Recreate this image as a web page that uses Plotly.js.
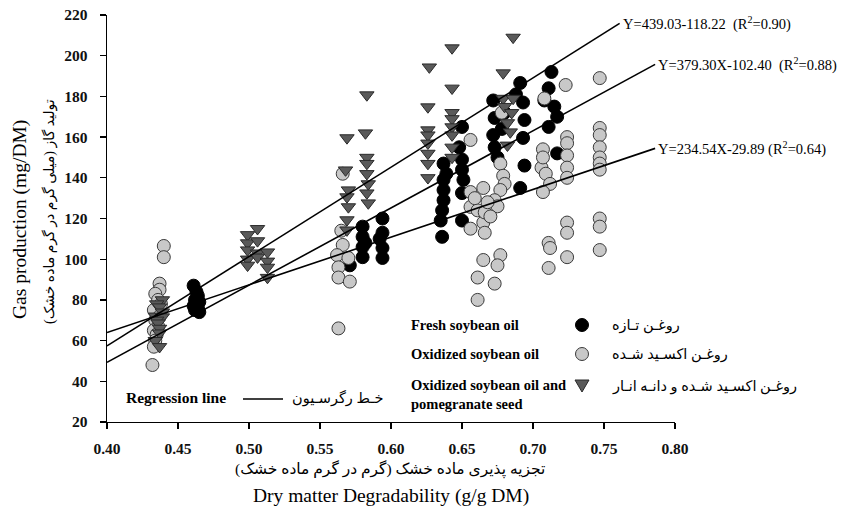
<!DOCTYPE html>
<html>
<head>
<meta charset="utf-8">
<script src="https://cdn.plot.ly/plotly-3.0.1.min.js"></script>
<style>html,body{margin:0;padding:0;background:#fff;}#chart{width:861px;height:515px;}</style>
</head>
<body>
<div id="chart"></div>
<script>
// ---------- DATA ----------
const freshX = [0.461,0.463,0.464,0.462,0.465,0.463,0.461,0.464,0.462,0.465,
  0.580,0.580,0.580,0.580,0.594,0.594,0.594,0.594,0.571,0.582,0.592,
  0.637,0.637,0.637,0.637,0.636,0.635,0.636,0.650,0.650,0.650,0.651,0.650,0.650,0.639,0.648,
  0.691,0.672,0.693,0.673,0.694,0.672,0.693,0.673,0.675,0.694,0.691,0.680,0.678,0.688,
  0.713,0.711,0.708,0.715,0.717,0.711,0.717];
const freshY = [87,84,82,80,79,78,77,76,75,74,
  116,111,106,101,120,113,105.5,100.6,97,108,110,
  147,139,134,129,124,119,111,165,149,144,139,132.5,119,142,155,
  186.6,178,177,169.4,168.4,161,159.6,155,150,146,135,172,164,181,
  192,184,178,175,170,165,152];

const oxidX = [0.440,0.440,0.437,0.437,0.434,0.436,0.438,0.433,0.437,0.434,0.436,0.433,0.435,0.434,0.433,0.432,
  0.566,0.565,0.566,0.562,0.570,0.563,0.563,0.571,0.563,
  0.656,0.656,0.665,0.656,0.661,0.665,0.656,0.666,0.665,0.677,0.675,0.661,0.673,0.661,
  0.677,0.679,0.680,0.677,0.673,0.675,0.666,0.659,0.668,0.670,0.678,
  0.723,0.708,0.707,0.706,0.707,0.709,0.712,0.707,0.711,0.712,0.711,
  0.724,0.724,0.724,0.724,0.724,0.724,0.724,0.724,
  0.747,0.747,0.747,0.747,0.747,0.747,0.747,0.747,0.747,0.747];
const oxidY = [106.5,101,88,85,83,80,78,75,72,70,67,65,63,60,57,48,
  142,114,107,102,100.6,96,91,89,66,
  158.6,133,135,125.7,124,118,115,113,99.6,102,97,91,88,80,
  147,141,137,134,129,126,123,130,128,121,172,
  185.6,179,154,145,150,142,137,133,108,105.5,95.7,
  160,157,151,145,140,118,113,101,
  189,164.5,161,155,150,147,144,120,116,104.5];

const pomX = [0.439,0.435,0.437,0.439,0.434,0.439,0.435,0.436,0.437,0.437,0.434,0.437,
  0.499,0.499,0.499,0.499,0.499,0.506,0.506,0.506,0.506,0.513,0.513,0.513,0.513,
  0.569,0.568,0.570,0.569,0.570,0.569,0.569,0.583,0.582,0.583,0.583,0.583,0.584,0.583,0.584,
  0.627,0.643,0.626,0.643,0.626,0.626,0.626,0.626,0.626,0.626,0.643,0.643,0.643,0.643,0.643,0.643,
  0.686,0.679,0.679,0.686,0.680,0.685,0.682,0.684,0.682];
const pomY = [80,78,76.5,74,72,71.6,70,68.6,66,63.7,60,57,
  112,108,104.5,100,97,115,109,103,101,103.5,99,96,91,
  159.6,143.8,134,130.6,125.7,119.3,114.3,180.7,162,150,147,142,137,132.5,127.6,
  194.4,203.8,174.8,184,163.5,161,157,152,147,140,172,169,165,161,155,150,
  209,191.5,179,179,175,172,167,162.5,156];

// regression lines: slope, intercept, x end, label
const regSlope = [439.03, 379.30, 234.54];
const regIntercept = [-118.22, -102.40, -29.89];
const regStart = [0.40, 0.40, 0.40];
const regEnd = [0.761, 0.786, 0.786];
const regLabels = ['Y=439.03-118.22  (R<sup>2</sup>=0.90)',
                   'Y=379.30X-102.40  (R<sup>2</sup>=0.88)',
                   'Y=234.54X-29.89 (R<sup>2</sup>=0.64)'];

const xTickVals = [0.40,0.45,0.50,0.55,0.60,0.65,0.70,0.75,0.80];
const xTickText = ['0.40','0.45','0.50','0.55','0.60','0.65','0.70','0.75','0.80'];
const yTickVals = [20,40,60,80,100,120,140,160,180,200,220];
const yTickText = ['20','40','60','80','100','120','140','160','180','200','220'];

// ---------- LAYOUT HELPERS ----------
const L = 107, R = 675, T = 15, B = 422;
const px = x => (x - L) / (R - L);
const py = y => (B - y) / (B - T);
const SERIF = 'Liberation Serif, Times New Roman, DejaVu Serif, serif';
const FA = 'Liberation Serif, DejaVu Sans, Noto Sans, serif';

const traces = [];
traces.push({x: freshX, y: freshY, type: 'scatter', mode: 'markers', cliponaxis: false,
  marker: {symbol: 'circle', size: 13, color: '#000000', line: {color: '#000000', width: 1}}});
traces.push({x: oxidX, y: oxidY, type: 'scatter', mode: 'markers', cliponaxis: false,
  marker: {symbol: 'circle', size: 13, color: '#c8c8c8', line: {color: '#3a3a3a', width: 1}}});
traces.push({x: pomX, y: pomY, type: 'scatter', mode: 'markers', cliponaxis: false,
  marker: {symbol: 'triangle-down', size: 12.5, color: '#5a5a5a', line: {color: '#2a2a2a', width: 1}}});

const annotations = [];
for (let i = 0; i < regSlope.length; i++) {
  const xs = [regStart[i], regEnd[i]];
  const ys = xs.map(v => regSlope[i] * v + regIntercept[i]);
  traces.push({x: xs, y: ys, type: 'scatter', mode: 'lines', cliponaxis: false,
    line: {color: '#000000', width: 1.6}});
  annotations.push({x: xs[1], y: ys[1], xref: 'x', yref: 'y', text: regLabels[i],
    showarrow: false, xanchor: 'left', yanchor: 'middle', xshift: 1,
    font: {family: SERIF, size: 14.5, color: '#000'}});
}

function txt(x, y, text, opts) {
  return Object.assign({x: px(x), y: py(y), xref: 'paper', yref: 'paper', text: text,
    showarrow: false, xanchor: 'left', yanchor: 'middle'}, opts);
}
const legFont = {family: SERIF, size: 14.5, color: '#000', weight: 'bold'};
const faFont = {family: FA, size: 14.5, color: '#000'};

annotations.push(txt(409, 325, 'Fresh soybean oil', {font: legFont}));
annotations.push(txt(409, 354, 'Oxidized soybean oil', {font: legFont}));
annotations.push(txt(409, 394, 'Oxidized soybean oil and<br>pomegranate seed', {font: legFont, align: 'left'}));
annotations.push(txt(610, 325, 'روغـن تـازه', {font: faFont}));
annotations.push(txt(610, 354, 'روغـن اکسـید شـده', {font: faFont}));
annotations.push(txt(610, 386, 'روغـن اکسـید شـده و دانـه انـار', {font: faFont}));
annotations.push(txt(124, 397, 'Regression line', {font: {family: SERIF, size: 15.5, color: '#000', weight: 'bold'}}));
annotations.push(txt(290, 398, 'خـط رگرسـیون', {font: faFont}));

// axis titles
annotations.push(txt(20, 220, 'Gas production (mg/DM)', {xanchor: 'center', textangle: -90,
  font: {family: SERIF, size: 19.5, color: '#000'}}));
annotations.push(txt(50, 212, 'تولید گاز (میلی گرم در گرم ماده خشک)', {xanchor: 'center', textangle: -90,
  font: {family: FA, size: 14, color: '#000'}}));
annotations.push(txt(390, 469, 'تجزیه پذیری ماده خشک (گرم در گرم ماده خشک)', {xanchor: 'center',
  font: {family: FA, size: 15.5, color: '#000'}}));
annotations.push(txt(391, 496, 'Dry matter Degradability (g/g DM)', {xanchor: 'center',
  font: {family: SERIF, size: 19.5, color: '#000'}}));

const shapes = [
  {type: 'circle', xref: 'paper', yref: 'paper', x0: px(575.5), x1: px(588.5), y0: py(331.5), y1: py(318.5),
   fillcolor: '#000', line: {color: '#000', width: 1}},
  {type: 'circle', xref: 'paper', yref: 'paper', x0: px(575.5), x1: px(588.5), y0: py(360.5), y1: py(347.5),
   fillcolor: '#c8c8c8', line: {color: '#3a3a3a', width: 1}},
  {type: 'path', xref: 'paper', yref: 'paper',
   path: `M ${px(575)} ${py(380)} L ${px(589)} ${py(380)} L ${px(582)} ${py(392)} Z`,
   fillcolor: '#5a5a5a', line: {color: '#2a2a2a', width: 1}},
  {type: 'line', xref: 'paper', yref: 'paper', x0: px(243), x1: px(283), y0: py(399), y1: py(399),
   line: {color: '#000', width: 1.6}}
];

const axisCommon = {showline: true, linecolor: '#000', linewidth: 1.3, ticks: 'outside',
  ticklen: 6, tickwidth: 1.3, tickcolor: '#000', showgrid: false, zeroline: false,
  tickfont: {family: SERIF, size: 15.5, color: '#111', weight: 'bold'}};

const layout = {
  width: 861, height: 515,
  margin: {l: L, r: 861 - R, t: T, b: 515 - B},
  paper_bgcolor: '#fff', plot_bgcolor: '#fff',
  showlegend: false,
  xaxis: Object.assign({}, axisCommon, {range: [0.4, 0.8], tickmode: 'array',
    tickvals: xTickVals, ticktext: xTickText, ticklabelstandoff: 6}),
  yaxis: Object.assign({}, axisCommon, {range: [20, 220], tickmode: 'array',
    tickvals: yTickVals, ticktext: yTickText, ticklabelstandoff: 9}),
  annotations: annotations,
  shapes: shapes
};

Plotly.newPlot('chart', traces, layout, {staticPlot: true, displayModeBar: false});
</script>
</body>
</html>
